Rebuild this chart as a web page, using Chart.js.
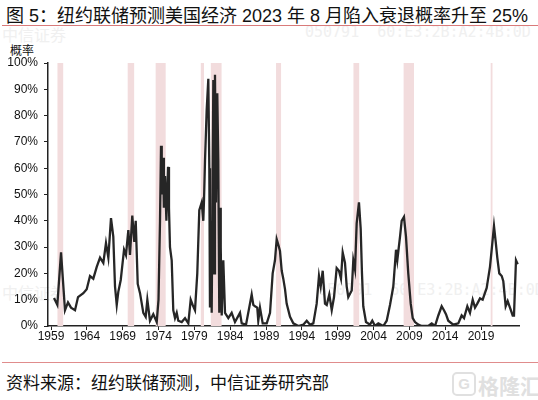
<!DOCTYPE html>
<html>
<head>
<meta charset="utf-8">
<script src="https://cdn.jsdelivr.net/npm/chart.js@4.4.1/dist/chart.umd.min.js"></script>
<style>
    body { margin: 0; background: #fff; }
    #wrap { position: relative; width: 538px; height: 400px; overflow: hidden; font-family: "Liberation Sans", "Noto Sans CJK SC", sans-serif; }
    #wrap div { position: absolute; white-space: nowrap; }
    canvas { position: absolute; left: 0; top: 0; }
    .wm { color: #f0f0f0; font-size: 16px; }
    .wm-mono { color: #f0f0f0; font-size: 15px; font-family: "DejaVu Sans Mono", monospace; }
</style>
</head>
<body>
<div id="wrap">
    <div class="wm" style="left:2px; top:22px;">中信证券</div>
    <div class="wm-mono" style="left:305px; top:23px;">050791&nbsp;&nbsp;60:E3:2B:A2:4B:0D</div>
    <div class="wm" style="left:2px; top:280px;">中信证券</div>
    <div class="wm-mono" style="left:318px; top:281px;">050791&nbsp;&nbsp;60:E3:2B:A2:4B:0D</div>
    <div id="title" style="left:6px; top:1px; font-size:18px; color:#111;">图 5：纽约联储预测美国经济 2023 年 8 月陷入衰退概率升至 25%</div>
    <div style="left:2px; top:25px; width:536px; height:1px; background:#d97a7a;"></div>
    <div style="left:10px; top:41px; font-size:12px; color:#111; font-family:'Noto Sans CJK SC';">概率</div>
    <div style="left:2px; top:362px; width:536px; height:1px; background:#e08c8c;"></div>
    <div style="left:6px; top:369px; font-size:17px; color:#111;">资料来源：纽约联储预测，中信证券研究部</div>
    <div style="left:452px; top:372px; width:20px; height:20px; border:2px solid #e0e0e0; border-radius:5px; color:#e0e0e0; font-size:15px; font-weight:bold; text-align:center; line-height:20px;">G</div>
    <div style="left:478px; top:370px; font-size:21px; color:#e0e0e0; font-weight:bold; font-family:'Noto Sans CJK SC';">格隆汇</div>
    <canvas id="chart" width="538" height="400"></canvas>
</div>
<script>
// x positions in decimal years, values in %
const years = [
    1959.42, 1959.88, 1960.40, 1960.95, 1961.37, 1961.79, 1962.35, 1962.77, 1963.51, 1963.98,
    1964.44, 1964.90, 1965.38, 1965.84, 1966.30, 1966.67, 1967.00, 1967.37, 1967.69, 1967.93,
    1968.17, 1968.39, 1968.73, 1969.19, 1969.46, 1969.79, 1970.02, 1970.34, 1970.62, 1970.82,
    1971.10, 1971.42, 1971.88, 1972.21, 1972.44, 1972.81, 1973.27, 1973.75, 1974.00, 1974.21,
    1974.35, 1974.45, 1974.63, 1974.75, 1974.91, 1975.10, 1975.33, 1975.46, 1975.60, 1975.84,
    1976.06, 1976.30, 1976.54, 1976.76, 1977.24, 1977.70, 1978.16, 1978.49, 1978.77, 1979.09,
    1979.41, 1979.69, 1980.03, 1980.25, 1980.35, 1980.49, 1980.72, 1980.95, 1981.09, 1981.18,
    1981.30, 1981.42, 1981.65, 1981.78, 1981.88, 1982.02, 1982.20, 1982.34, 1982.48, 1982.60,
    1982.68, 1982.82, 1983.04, 1983.28, 1983.74, 1984.21, 1984.67, 1985.37, 1985.61, 1986.21,
    1987.00, 1987.23, 1987.46, 1987.78, 1987.92, 1988.16, 1988.54, 1989.10, 1989.56, 1989.93,
    1990.25, 1990.49, 1990.71, 1990.95, 1991.19, 1991.41, 1991.65, 1991.88, 1992.35, 1992.81,
    1993.51, 1994.20, 1994.68, 1995.14, 1995.60, 1996.07, 1996.39, 1996.63, 1996.91, 1997.23,
    1997.47, 1997.83, 1998.17, 1998.49, 1998.86, 1999.18, 1999.46, 1999.70, 2000.02, 2000.26,
    2000.48, 2000.96, 2001.18, 2001.42, 2001.65, 2001.97, 2002.21, 2002.39, 2002.57, 2002.95,
    2003.51, 2003.83, 2004.21, 2004.67, 2005.37, 2005.84, 2006.30, 2006.76, 2007.14, 2007.32,
    2007.70, 2007.93, 2008.25, 2008.53, 2008.85, 2009.19, 2009.47, 2009.79, 2010.25, 2010.72,
    2011.64, 2012.12, 2012.58, 2013.04, 2013.51, 2013.83, 2014.11, 2014.43, 2015.13, 2015.83,
    2016.30, 2016.63, 2017.09, 2017.46, 2017.84, 2018.16, 2018.48, 2018.86, 2019.23, 2019.79,
    2020.25, 2020.49, 2020.81, 2021.05, 2021.27, 2021.55, 2021.89, 2022.11, 2022.44, 2022.72,
    2023.04, 2023.42, 2023.60, 2023.88, 2024.12
];
const probs = [
    10.6, 8, 28, 6, 9, 7, 6, 11, 12.5, 14,
    19, 18, 22.5, 26, 24, 31.5, 26, 41, 34, 15,
    8, 13, 17.5, 29, 27, 36.5, 27, 42, 32, 40,
    16, 12.5, 5, 3.5, 10, 2, 4.5, 1.5, 10, 40,
    68.5, 50, 64, 45, 57, 40, 60.5, 45, 30, 25,
    6, 3, 5, 2, 1.5, 3, 1, 10, 8, 6,
    20, 44, 47, 40, 48, 63, 82, 94, 60, 7,
    40, 5, 93.5, 20, 95.5, 47, 88.5, 63, 5, 45,
    30, 4, 25, 5, 3, 5, 1.5, 5, 1, 0.5,
    12, 8, 7.5, 7, 2, 7, 1, 1, 5, 20,
    25, 33, 31, 28.5, 21, 18, 14, 8.5, 3.5, 1,
    0, 0.5, 2, 0.5, 1, 8.5, 19, 15, 21, 8.5,
    8, 12, 6, 11, 22, 21, 18, 28, 24, 15,
    11, 13.5, 25, 21.5, 39, 47, 37, 20, 7.5, 1.5,
    0.5, 2, 0, 1, 0, 2, 8, 15, 29, 25,
    34, 40, 41.5, 34, 20, 8.5, 3, 1.5, 0.5, 0,
    0, 1, 0, 4, 7.5, 6, 4.5, 2, 0.5, 1,
    4, 3, 7.5, 5, 10, 7, 8.5, 10.5, 10, 14.5,
    22.5, 29, 38, 32, 26, 20, 19, 17, 7.5, 9.5,
    7, 4, 4, 25, 23.5
];
const recessionStarts = [1959.9, 1969.7, 1973.6, 1979.9, 1981.3, 1990.4, 2001.2, 2008.2, 2020.35];
const recessionEnds = [1960.7, 1970.6, 1975.0, 1980.35, 1982.8, 1991.1, 2002.0, 2009.65, 2020.6];
const xTickYears = [1959, 1964, 1969, 1974, 1979, 1984, 1989, 1994, 1999, 2004, 2009, 2014, 2019];
const yTicks = [0, 10, 20, 30, 40, 50, 60, 70, 80, 90, 100];

const recessionBands = {
    id: 'recessionBands',
    beforeDatasetsDraw(chart) {
        const {ctx, chartArea, scales} = chart;
        ctx.save();
        ctx.fillStyle = 'rgb(242, 220, 221)';
        recessionStarts.forEach((s, i) => {
            const x0 = scales.x.getPixelForValue(s);
            const x1 = scales.x.getPixelForValue(recessionEnds[i]);
            ctx.fillRect(x0, chartArea.top, x1 - x0, chartArea.bottom - chartArea.top);
        });
        ctx.restore();
    }
};

const tickFont = {family: '"Liberation Sans", Arial, sans-serif', size: 12};

new Chart(document.getElementById('chart'), {
    type: 'line',
    data: {
        datasets: [{
            data: years.map((y, i) => ({x: y, y: probs[i]})),
            borderColor: '#262626',
            borderWidth: 2.3,
            pointRadius: 0,
            tension: 0
        }]
    },
    options: {
        responsive: false,
        animation: false,
        devicePixelRatio: 1,
        layout: {padding: {top: 63, right: 19, bottom: 50, left: 0}},
        plugins: {legend: {display: false}, tooltip: {enabled: false}},
        scales: {
            x: {
                type: 'linear',
                min: 1958.58,
                max: 2024.3,
                afterBuildTicks: axis => { axis.ticks = xTickYears.map(v => ({value: v})); },
                afterFit: axis => { axis.height = 24; },
                grid: {drawOnChartArea: false, drawTicks: true, tickLength: 4, color: '#222'},
                border: {display: true, color: '#222', width: 1.5},
                ticks: {color: '#111', font: tickFont, padding: -1, maxRotation: 0, autoSkip: false,
                    callback: v => String(v)}
            },
            y: {
                min: 0,
                max: 100,
                afterBuildTicks: axis => { axis.ticks = yTicks.map(v => ({value: v})); },
                afterFit: axis => { axis.width = 48; },
                grid: {drawOnChartArea: false, drawTicks: true, tickLength: 4, color: '#222'},
                border: {display: true, color: '#222', width: 1.5},
                ticks: {color: '#111', font: tickFont, padding: 6, callback: v => v + '%'}
            }
        }
    },
    plugins: [recessionBands]
});
</script>
</body>
</html>
